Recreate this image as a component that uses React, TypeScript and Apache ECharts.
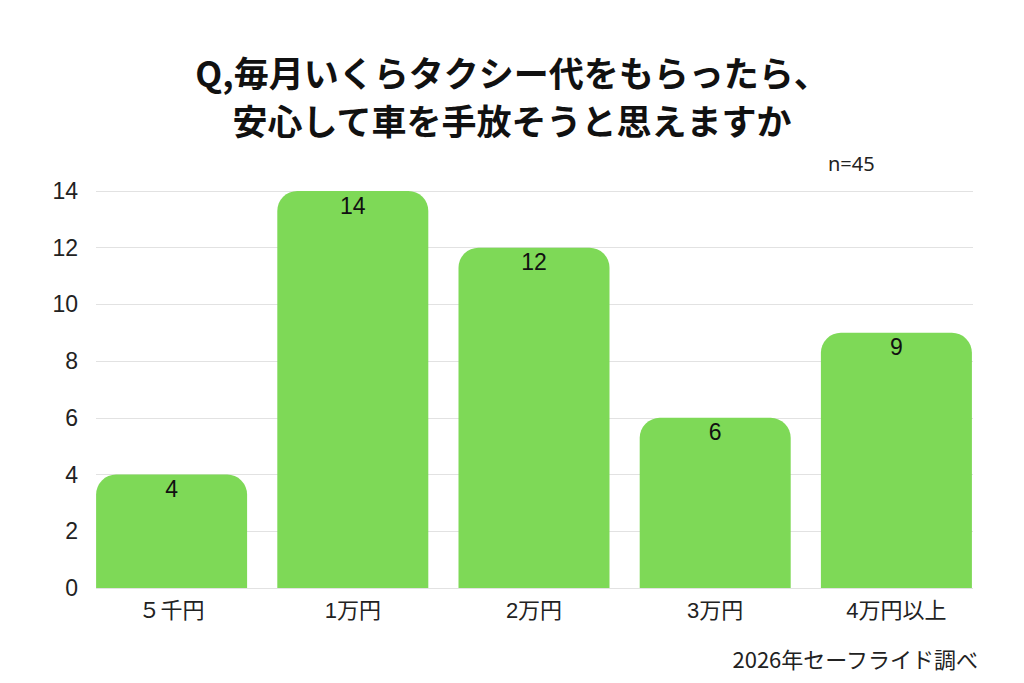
import React, { useEffect, useRef } from "react";
import * as echarts from "echarts";

const categories = ["５千円", "1万円", "2万円", "3万円", "4万円以上"];
const values = [4, 14, 12, 6, 9];
const titleLines = ["Q,毎月いくらタクシー代をもらったら、", "安心して車を手放そうと思えますか"];
const sampleNote = "n=45";
const sourceNote = "2026年セーフライド調べ";

export default function App() {
  const ref = useRef<HTMLDivElement>(null);
  useEffect(() => {
    document.body.style.margin = "0";
    if (!ref.current) return;
    const chart = echarts.init(ref.current, null, { renderer: "svg" });
    const latin = "'Liberation Sans', 'Noto Sans CJK JP', sans-serif";
    const cjk = "'Noto Sans CJK JP', sans-serif";
    const titleStyle = {
      fontFamily: cjk,
      fontSize: 35,
      fontWeight: "bold",
      fill: "#111111",
      textAlign: "center",
      verticalAlign: "middle",
    };
    chart.setOption({
      animation: false,
      backgroundColor: "#ffffff",
      grid: [
        { left: 81, right: 37, top: 191, bottom: 95 },
        { left: 96, right: 51, top: 191, bottom: 95 },
      ],
      xAxis: [
        {
          type: "category",
          gridIndex: 0,
          data: categories,
          axisLine: { show: false },
          axisTick: { show: false },
          axisLabel: {
            margin: 11,
            fontFamily: latin,
            fontSize: 22,
            color: "#222222",
          },
        },
        {
          type: "value",
          gridIndex: 1,
          show: false,
          min: 0,
          max: 1,
        },
      ],
      yAxis: [
        {
          type: "value",
          gridIndex: 0,
          min: 0,
          max: 14,
          interval: 2,
          show: false,
          splitLine: { show: false },
        },
        {
          type: "value",
          gridIndex: 1,
          min: 0,
          max: 14,
          interval: 2,
          axisLine: { show: false },
          axisTick: { show: false },
          axisLabel: {
            margin: 18,
            fontFamily: latin,
            fontSize: 23,
            color: "#222222",
          },
          splitLine: { show: true, lineStyle: { color: "#e2e2e2", width: 1 } },
        },
      ],
      series: [
        {
          type: "bar",
          xAxisIndex: 0,
          yAxisIndex: 0,
          data: values,
          barWidth: 151,
          itemStyle: { color: "#7ED957", borderRadius: [20, 20, 0, 0] },
          label: {
            show: true,
            position: "insideTop",
            distance: 3,
            fontFamily: latin,
            fontSize: 23,
            color: "#111111",
          },
        },
      ],
      graphic: [
        {
          type: "text",
          x: 512,
          y: 71,
          style: { ...titleStyle, text: titleLines[0] },
        },
        {
          type: "text",
          x: 512,
          y: 119,
          style: { ...titleStyle, text: titleLines[1] },
        },
        {
          type: "text",
          x: 828,
          y: 163,
          style: {
            text: sampleNote,
            fontFamily: "'Noto Sans', sans-serif",
            fontSize: 20,
            fill: "#222222",
            verticalAlign: "middle",
            textAlign: "left",
          },
        },
        {
          type: "text",
          x: 978,
          y: 658,
          style: {
            text: sourceNote,
            fontFamily: cjk,
            fontSize: 22,
            fill: "#222222",
            verticalAlign: "middle",
            textAlign: "right",
          },
        },
      ],
    });
    return () => chart.dispose();
  }, []);
  return <div ref={ref} style={{ width: 1024, height: 683 }} />;
}
